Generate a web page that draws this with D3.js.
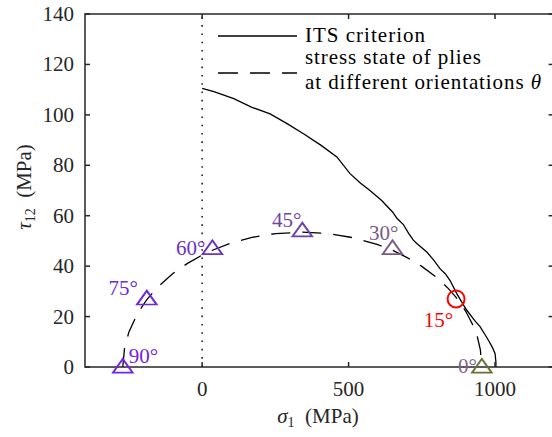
<!DOCTYPE html>
<html>
<head>
<meta charset="utf-8">
<script src="https://cdn.jsdelivr.net/npm/d3@7"></script>
<style>
  body { margin: 0; background: #fff; }
</style>
</head>
<body>
<div id="chart"></div>
<script>
// ITS failure criterion curve (sigma_1, tau_12)
const itsSigma = [0, 40, 108, 170, 232, 290, 346, 405, 460, 505, 540, 573, 613, 650, 665, 687, 705, 721, 733, 767, 790, 812, 830, 846, 869, 885, 903, 930, 949, 965, 977, 990, 1000, 1003, 1003];
const itsTau   = [110.5, 109.2, 106.4, 103, 100.4, 96.5, 92.5, 88, 83.3, 76.7, 73, 70, 66, 61.5, 59, 56.5, 53, 50.3, 49, 45.6, 42.5, 39, 37, 34.4, 29.2, 26, 22.6, 18.5, 16, 13, 10.7, 8, 5.4, 2, 0];

// stress state of plies (dashed curve)
const plyCurveSigma = [-271, -265, -250, -220, -189, -150, -100, -50, 0, 35, 100, 170, 250, 342, 430, 520, 600, 650, 700, 750, 800, 840, 867, 900, 925, 940, 950, 955];
const plyCurveTau   = [0, 7.5, 13.9, 21.4, 26.7, 31.9, 37.1, 41.1, 44.4, 46.3, 49.2, 51.4, 52.9, 53.5, 52.9, 51.2, 48.5, 46.3, 43.4, 39.9, 35.6, 31.2, 27.6, 22.1, 16.5, 11.8, 6.8, 0];

// marked orientations
const plyAngles = [90, 75, 60, 45, 30, 15, 0];
const plySigma  = [-271, -189, 35, 342, 650, 867, 955];
const plyTau    = [0, 27, 47, 54, 47, 27, 0];

const xTicks = [0, 500, 1000];
const yTicks = [0, 20, 40, 60, 80, 100, 120, 140];

const legendLines = ["ITS criterion", "stress state of plies", "at different orientations "];

// look of each orientation marker / label
const plyStyle = {
  90: {color: "#7124e8", label: "#7124e8", shape: "tri", anchor: "start", dx: 6,  dy: -4},
  75: {color: "#6c2ad8", label: "#6c2ad8", shape: "tri", anchor: "end",   dx: -9, dy: -4},
  60: {color: "#6a33c9", label: "#6a33c9", shape: "tri", anchor: "end",   dx: -7, dy: 7},
  45: {color: "#6d43a9", label: "#6d43a9", shape: "tri", anchor: "end",   dx: -1, dy: -4},
  30: {color: "#775a88", label: "#775a88", shape: "tri", anchor: "end",   dx: 6,  dy: -8},
  15: {color: "#ff0000", label: "#ff0000", shape: "circ", anchor: "end",  dx: -3, dy: 28},
  0:  {color: "#687230", label: "#80638f", shape: "tri", anchor: "end",   dx: -5, dy: 6}
};

const width = 552, height = 437;
const margin = {left: 85, top: 14, right: 553.6, bottom: 367};
const axisColor = "#262626";
const serif = "Liberation Serif";

const svg = d3.select("#chart").append("svg")
  .attr("width", width)
  .attr("height", height)
  .style("display", "block");

const x = d3.scaleLinear().domain([-400, 1200]).range([margin.left, margin.right]);
const y = d3.scaleLinear().domain([0, 140]).range([margin.bottom, margin.top]);

// dotted line at sigma = 0
svg.append("line")
  .attr("x1", x(0)).attr("x2", x(0))
  .attr("y1", y(0)).attr("y2", y(140))
  .style("stroke", "#222")
  .style("stroke-width", 1.6)
  .style("stroke-dasharray", "1.6 6.7");

const line = d3.line().x(d => x(d[0])).y(d => y(d[1]));

// ITS criterion
svg.append("path")
  .datum(d3.zip(itsSigma, itsTau))
  .attr("d", line)
  .style("fill", "none")
  .style("stroke", "#000")
  .style("stroke-width", 1.3);

// ply stress states
svg.append("path")
  .datum(d3.zip(plyCurveSigma, plyCurveTau))
  .attr("d", line)
  .style("fill", "none")
  .style("stroke", "#000")
  .style("stroke-width", 1.3)
  .style("stroke-dasharray", "19 12");

// axes box with inward ticks
const tickLen = 5;
const gAx = svg.append("g").style("stroke", axisColor).style("stroke-width", 1.5);
gAx.append("rect")
  .attr("x", x(-400)).attr("y", y(140))
  .attr("width", x(1200) - x(-400)).attr("height", y(0) - y(140))
  .style("fill", "none");

xTicks.forEach(t => {
  gAx.append("line").attr("x1", x(t)).attr("x2", x(t)).attr("y1", y(0)).attr("y2", y(0) - tickLen);
  gAx.append("line").attr("x1", x(t)).attr("x2", x(t)).attr("y1", y(140)).attr("y2", y(140) + tickLen);
});
yTicks.forEach(t => {
  gAx.append("line").attr("x1", x(-400)).attr("x2", x(-400) + tickLen).attr("y1", y(t)).attr("y2", y(t));
  gAx.append("line").attr("x1", x(1200)).attr("x2", x(1200) - tickLen).attr("y1", y(t)).attr("y2", y(t));
});

// tick labels
svg.selectAll("text.xt").data(xTicks).enter().append("text")
  .attr("class", "xt")
  .attr("x", d => x(d)).attr("y", 396)
  .attr("text-anchor", "middle")
  .attr("font-family", serif)
  .style("font-size", "21px")
  .style("fill", axisColor)
  .text(d => d);

svg.selectAll("text.yt").data(yTicks).enter().append("text")
  .attr("class", "yt")
  .attr("x", 74).attr("y", d => y(d) + 7)
  .attr("text-anchor", "end")
  .attr("font-family", serif)
  .style("font-size", "21px")
  .style("fill", axisColor)
  .text(d => d);

// axis labels
const xl = svg.append("text")
  .attr("x", 318).attr("y", 423)
  .attr("text-anchor", "middle")
  .attr("font-family", serif)
  .style("font-size", "21px")
  .style("fill", axisColor);
xl.append("tspan").style("font-style", "italic").text("σ");
xl.append("tspan").attr("dy", 4).style("font-size", "14px").text("1");
xl.append("tspan").attr("dy", -4).text("\u2002(MPa)");

const yl = svg.append("text")
  .attr("transform", "translate(31,187) rotate(-90)")
  .attr("text-anchor", "middle")
  .attr("font-family", serif)
  .style("font-size", "21px")
  .style("fill", axisColor);
yl.append("tspan").style("font-style", "italic").text("τ");
yl.append("tspan").attr("dy", 4).style("font-size", "14px").text("12");
yl.append("tspan").attr("dy", -4).text("\u2002(MPa)");

// orientation labels (drawn under markers)
plyAngles.forEach((a, i) => {
  const s = plyStyle[a];
  svg.append("text")
    .attr("x", x(plySigma[i]) + s.dx)
    .attr("y", y(plyTau[i]) + s.dy)
    .attr("text-anchor", s.anchor)
    .attr("font-family", serif)
    .style("font-size", "21px")
    .style("fill", s.label)
    .text(a + "°");
});

// markers
const tri = d3.symbol().type(d3.symbolTriangle).size(150);
plyAngles.forEach((a, i) => {
  const s = plyStyle[a];
  const cx = x(plySigma[i]), cy = y(plyTau[i]);
  if (s.shape === "circ") {
    svg.append("circle")
      .attr("cx", cx).attr("cy", cy).attr("r", 8.5)
      .style("fill", "none").style("stroke", s.color).style("stroke-width", 2);
  } else {
    svg.append("path")
      .attr("d", tri())
      .attr("transform", `translate(${cx},${cy + 1}) scale(1.05,0.85)`)
      .style("fill", "none").style("stroke", s.color).style("stroke-width", 2);
  }
});

// legend
const leg = svg.append("g");
leg.append("line").attr("x1", 218).attr("x2", 297).attr("y1", 36).attr("y2", 36)
  .style("stroke", "#000").style("stroke-width", 1.3);
leg.append("line").attr("x1", 218).attr("x2", 297).attr("y1", 73).attr("y2", 73)
  .style("stroke", "#000").style("stroke-width", 1.3).style("stroke-dasharray", "20 12");

const legendBase = [41.5, 64, 88.5];
const legendWidth = [120, 176, 236];
legendLines.forEach((t, i) => {
  const tx = leg.append("text")
    .attr("x", 305).attr("y", legendBase[i])
    .attr("textLength", legendWidth[i])
    .attr("lengthAdjust", "spacing")
    .attr("font-family", serif)
    .style("font-size", "21px")
    .style("fill", "#000")
    .text(t);
  if (i === 2) tx.append("tspan").style("font-style", "italic").text("θ");
});
</script>
</body>
</html>
